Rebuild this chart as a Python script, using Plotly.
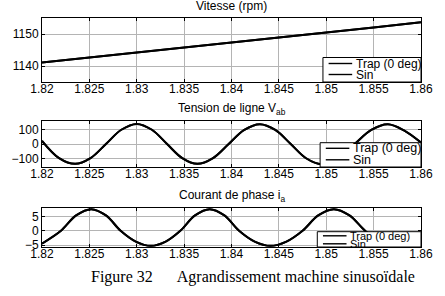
import plotly.graph_objects as go

# ---------------- data ----------------
series_names = ["Trap (0 deg)", "Sin"]

time_speed = [1.820, 1.825, 1.830, 1.835, 1.840, 1.845, 1.850, 1.855, 1.860]
speed_rpm = [1141.1, 1142.7, 1144.3, 1145.9, 1147.3, 1149.0, 1150.5, 1152.0, 1153.7]

time_vab = [1.8200, 1.8218, 1.8235, 1.82512, 1.82675, 1.82837, 1.8300, 1.8316,
            1.8332, 1.8348, 1.8364, 1.83805, 1.8397, 1.84135, 1.8430, 1.84462,
            1.84625, 1.84787, 1.8495, 1.85125, 1.8530, 1.85475, 1.8565, 1.8582, 1.8600]
vab = [22, -98, -138, -98, 0, 99, 140, 99,
       0, -98, -138, -98, 0, 98, 138, 98,
       0, -99, -140, -98, 0, 98, 138, 95, 10]

time_ia = [1.8200, 1.8220, 1.8236, 1.8252, 1.82675, 1.8283, 1.8299, 1.8315,
           1.83305, 1.8346, 1.83615, 1.8377, 1.83925, 1.8408, 1.84245, 1.8441,
           1.8458, 1.8475, 1.84915, 1.8508, 1.85245, 1.8541, 1.8557, 1.8574,
           1.8590, 1.8600]
ia = [-4.5, 0, 5.4, 7.6, 5.4, 0, -3.8, -5.3,
      -3.8, 0, 5.4, 7.6, 5.4, 0, -3.8, -5.3,
      -3.8, 0, 5.4, 7.6, 5.4, 0, -3.8, -5.3,
      -3.8, -1.5]

x_tickvals = [1.82, 1.825, 1.83, 1.835, 1.84, 1.845, 1.85, 1.855, 1.86]
x_ticktext = ["1.82", "1.825", "1.83", "1.835", "1.84", "1.845", "1.85", "1.855", "1.86"]
y1_ticks = [1140, 1150]
y2_ticks = [-100, 0, 100]
y3_ticks = [-5, 0, 5]

panel_titles = ["Vitesse (rpm)", "Tension de ligne V<sub>ab</sub>",
                "Courant de phase i<sub>a</sub>"]
caption_left = "Figure 32"
caption_right = "Agrandissement machine sinusoïdale"

# ---------------- layout geometry ----------------
W, H = 445, 296
ML, MR, MT, MB = 30, 13, 18, 49
PW = W - ML - MR
PH = H - MT - MB


def py(y):
    return (H - MB - y) / PH


def px(x):
    return (x - ML) / PW


panels_px = [(18, 82), (121, 167), (208, 247)]  # top, bottom in pixels
domains = [[py(b), py(t)] for t, b in panels_px]

SANS = "Liberation Sans, Arial, sans-serif"
SERIF = "Liberation Serif, Times New Roman, serif"

fig = go.Figure()

data_sets = [(time_speed, speed_rpm, "linear"),
             (time_vab, vab, "spline"),
             (time_ia, ia, "spline")]

for k, (tx, ty, shape) in enumerate(data_sets, start=1):
    suffix = "" if k == 1 else str(k)
    for name in series_names:
        fig.add_trace(go.Scatter(
            x=tx, y=ty, mode="lines", name=name,
            line=dict(color="black", width=2, shape=shape),
            xaxis="x" + suffix, yaxis="y" + suffix, showlegend=False))

axis_common = dict(
    showgrid=True, gridcolor="#b4b4b4", gridwidth=1,
    showline=True, linecolor="black", linewidth=1, mirror="ticks",
    ticks="inside", ticklen=3, tickcolor="black",
    tickfont=dict(family=SANS, size=12, color="black"),
    zeroline=False, fixedrange=True,
)

yranges = [[1135, 1155], [-160, 160], [-5.7, 8]]
yticks = [y1_ticks, y2_ticks, y3_ticks]

layout = dict(
    width=W, height=H, margin=dict(l=ML, r=MR, t=MT, b=MB),
    paper_bgcolor="white", plot_bgcolor="white", showlegend=False,
)
for k in range(1, 4):
    suffix = "" if k == 1 else str(k)
    layout["xaxis" + suffix] = dict(
        axis_common, domain=[0, 1], range=[1.82, 1.86],
        tickvals=x_tickvals, ticktext=x_ticktext,
        ticklabelstandoff=-4,
        anchor="y" + suffix)
    layout["yaxis" + suffix] = dict(
        axis_common, domain=domains[k - 1], range=yranges[k - 1],
        tickvals=yticks[k - 1], anchor="x" + suffix)
fig.update_layout(**layout)

# ---------------- panel titles ----------------
title_y = [6, 109, 196]
for t, yy in zip(panel_titles, title_y):
    fig.add_annotation(text=t, xref="paper", yref="paper", x=px(231), y=py(yy),
                       xanchor="center", yanchor="middle", showarrow=False,
                       font=dict(family=SANS, size=12, color="black"))

# ---------------- legends (drawn boxes) ----------------
legend_geo = [
    (328, 57.5, (63.5, 74.5), 12.0),
    (325, 142.7, (148.3, 159.8), 12.5),
    (322, 231.7, (235.8, 243.8), 11.0),
]
for k, (left, top, rows, fs) in enumerate(legend_geo, start=1):
    suffix = "" if k == 1 else str(k)
    xr = "x" + suffix + " domain"
    yr = "y" + suffix + " domain"
    t_px, b_px = panels_px[k - 1]
    ph = b_px - t_px

    def ydom(y):
        return (b_px - y) / ph

    fig.add_shape(type="rect", xref=xr, yref=yr,
                  x0=px(left), x1=1.0, y0=0, y1=ydom(top),
                  fillcolor="white", line=dict(color="black", width=1), layer="above")
    for name, ry in zip(series_names, rows):
        fig.add_shape(type="line", xref=xr, yref=yr,
                      x0=px(left + 6), x1=px(left + 31), y0=ydom(ry), y1=ydom(ry),
                      line=dict(color="black", width=1.4), layer="above")
        fig.add_annotation(text=name, xref=xr, yref=yr, x=px(left + 34), y=ydom(ry),
                           xanchor="left", yanchor="middle", showarrow=False,
                           borderpad=0,
                           font=dict(family=SANS, size=fs, color="black"))

# ---------------- caption ----------------
fig.add_annotation(text=caption_left + "\u00a0" * 6 + caption_right,
                   xref="paper", yref="paper", x=px(254), y=py(277),
                   xanchor="center", yanchor="middle", showarrow=False,
                   font=dict(family=SERIF, size=16, color="black"))

fig.write_html("out.html")
